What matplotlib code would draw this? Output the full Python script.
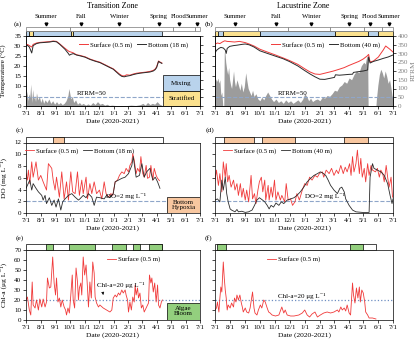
import matplotlib
matplotlib.use("Agg")
import matplotlib.pyplot as plt
import numpy as np
from matplotlib.patches import Rectangle

plt.rcParams['font.family'] = ['Liberation Serif', 'DejaVu Serif']
plt.rcParams['font.size'] = 5.2
plt.rcParams['axes.linewidth'] = 0.5
plt.rcParams['xtick.major.width'] = 0.5
plt.rcParams['ytick.major.width'] = 0.5
plt.rcParams['xtick.major.size'] = 2
plt.rcParams['ytick.major.size'] = 2
plt.rcParams['xtick.major.pad'] = 1.5
plt.rcParams['ytick.major.pad'] = 1.5

W, H = 417, 347

# x axis = days since 2020-07-01
month_days = [0, 31, 62, 92, 123, 153, 184, 215, 243, 274, 304, 335, 365]
month_labels = ['7/1', '8/1', '9/1', '10/1', '11/1', '12/1', '1/1', '2/1', '3/1', '4/1', '5/1', '6/1', '7/1']

seasons = ['Summer', 'Fall', 'Winter', 'Spring', 'Flood', 'Summer']
season_edges_tz = [0, 92, 152, 246, 309, 355, 365]
season_mark_tz = [41, 116, 195, 278, 321, 359]
season_edges_lz = [0, 89, 149, 236, 306, 342, 365]
season_mark_lz = [41, 126, 197, 275, 318, 356]

strat_tz = [(0, 7, 'M'), (7, 15, 'S'), (15, 94, 'M'), (94, 98, 'S'), (98, 285, 'M')]
strat_lz = [(0, 7, 'S'), (7, 17, 'M'), (17, 92, 'S'), (92, 246, 'M'), (246, 314, 'S'),
            (314, 335, 'M'), (335, 365, 'S')]
hyp_tz = [(57, 80)]
hyp_tz_end = 288
hyp_lz = [(19, 79), (96, 164), (265, 314)]
hyp_lz_end = 365
bloom_tz = [(41, 57), (90, 145), (181, 209), (225, 239), (257, 285)]
bloom_tz_end = 285
bloom_lz = [(5, 22), (277, 304)]
bloom_lz_end = 331

# temperature (day, degC)
temp_tz_surf = [(0, 30.5), (3, 30.8), (7, 30.2), (12, 29.5), (15, 30.8), (22, 31.5), (29, 31.8),
                (40, 32.0), (50, 32.2), (57, 32.5), (64, 32.3), (71, 31.0), (82, 28.8), (89, 27.5),
                (91, 27.2), (94, 27.0), (99, 26.6), (106, 25.6), (113, 25.3), (124, 24.6), (134, 23.5),
                (145, 22.6), (155, 21.9), (166, 20.6), (176, 19.4), (183, 18.6), (190, 17.2),
                (196, 16.0), (201, 15.2), (206, 15.0), (211, 15.6), (218, 15.4), (225, 16.0),
                (232, 16.4), (239, 16.6), (246, 16.8), (253, 17.0), (260, 17.3), (267, 17.8),
                (271, 18.5), (274, 19.6), (278, 22.5), (281, 22.0), (285, 21.5)]
temp_tz_bot = [(0, 30.0), (3, 30.3), (7, 29.5), (12, 26.5), (15, 30.2), (22, 31.2), (29, 31.6),
               (40, 31.8), (50, 32.0), (57, 32.3), (64, 32.1), (71, 30.8), (82, 28.3), (89, 26.2),
               (91, 25.4), (94, 25.8), (99, 26.2), (106, 25.5), (113, 25.1), (124, 24.4), (134, 23.3),
               (145, 22.4), (155, 21.7), (166, 20.4), (176, 19.2), (183, 18.4), (190, 16.9),
               (196, 15.6), (201, 14.8), (206, 14.6), (211, 14.9), (218, 15.2), (225, 15.7),
               (232, 16.1), (239, 16.4), (246, 16.6), (253, 16.8), (260, 17.0), (267, 17.5),
               (271, 18.2), (274, 19.2), (278, 22.3), (281, 21.8), (285, 21.3)]
temp_lz_surf = [(0, 30.9), (5, 31.5), (10, 31.2), (15, 32.0), (20, 32.6), (25, 32.3), (31, 32.2),
                (40, 32.0), (50, 32.3), (62, 31.7), (70, 31.0), (80, 30.0), (92, 28.4), (105, 27.2),
                (123, 25.6), (140, 24.0), (153, 22.7), (170, 20.8), (184, 18.6), (195, 17.0),
                (205, 16.0), (215, 15.8), (225, 16.4), (235, 17.0), (243, 17.5), (255, 18.4),
                (265, 19.2), (274, 20.2), (285, 21.3), (295, 22.3), (304, 23.5), (312, 25.0),
                (315, 25.8), (318, 22.0), (325, 22.5), (335, 24.5), (345, 28.0), (350, 30.0),
                (358, 28.5), (365, 27.0)]
temp_lz_bot = [(0, 26.5), (3, 27.8), (8, 28.8), (12, 29.3), (17, 29.0), (21, 28.0), (23, 26.3),
               (25, 28.8), (30, 29.8), (38, 30.2), (45, 30.4), (55, 30.8), (62, 31.0), (70, 30.6),
               (80, 29.5), (92, 27.6), (105, 26.5), (123, 25.0), (140, 23.6), (153, 22.2),
               (170, 20.0), (184, 17.7), (195, 16.0), (205, 14.6), (215, 13.4), (225, 13.3),
               (235, 13.8), (245, 14.3), (247, 15.6), (255, 15.4), (265, 15.6), (274, 15.8),
               (282, 15.9), (284, 16.8), (295, 17.2), (304, 17.5), (313, 18.0), (315, 24.5),
               (318, 21.5), (325, 22.3), (335, 23.0), (345, 23.8), (355, 24.5), (365, 25.5)]

# RTRM (day, value)
rtrm_tz = [(0, 40), (2, 85), (4, 30), (6, 70), (8, 50), (10, 125), (12, 20), (14, 95), (16, 40),
           (18, 60), (20, 25), (22, 75), (25, 35), (28, 55), (31, 20), (34, 45), (37, 15), (40, 35),
           (44, 20), (48, 40), (52, 15), (56, 30), (60, 10), (64, 25), (68, 10), (72, 20), (76, 8),
           (80, 15), (84, 30), (88, 60), (90, 100), (92, 70), (94, 40), (97, 55), (100, 20),
           (104, 35), (108, 10), (112, 20), (116, 8), (120, 15), (125, 5), (130, 12), (135, 5),
           (140, 20), (145, 8), (150, 25), (155, 10), (160, 15), (165, 5), (170, 10), (175, 3),
           (180, 5), (190, 2), (200, 3), (210, 2), (220, 5), (230, 3), (240, 8), (245, 15),
           (250, 5), (255, 20), (260, 8), (265, 15), (270, 10), (275, 25), (280, 10), (285, 5)]
rtrm_lz = [(0, 120), (2, 155), (4, 140), (6, 160), (8, 130), (10, 150), (12, 60), (14, 80),
           (16, 0), (18, 0), (19, 300), (20, 320), (22, 250), (24, 210), (26, 180), (28, 220),
           (30, 150), (32, 120), (34, 100), (36, 150), (38, 200), (40, 140), (42, 110), (45, 150),
           (48, 120), (51, 90), (54, 130), (57, 80), (60, 110), (63, 190), (65, 150), (68, 100),
           (71, 80), (74, 60), (77, 90), (80, 55), (84, 70), (88, 40), (92, 30), (96, 50),
           (100, 35), (104, 60), (108, 80), (112, 60), (116, 40), (120, 25), (125, 40), (130, 20),
           (135, 30), (140, 15), (145, 35), (150, 20), (155, 30), (160, 15), (165, 25), (170, 35),
           (175, 20), (180, 40), (184, 70), (188, 55), (192, 30), (196, 45), (200, 25), (205, 35),
           (210, 40), (215, 30), (220, 50), (225, 45), (230, 60), (235, 55), (240, 70), (245, 90),
           (250, 85), (255, 110), (260, 120), (265, 140), (270, 130), (275, 160), (280, 150),
           (285, 180), (290, 200), (295, 190), (300, 230), (305, 250), (308, 240), (311, 280),
           (313, 290), (314, 0), (330, 0), (331, 40), (334, 120), (337, 180), (340, 210),
           (343, 190), (346, 160), (349, 200), (352, 170), (355, 130), (358, 150), (361, 100),
           (363, 60), (365, 40)]

# dissolved oxygen (day, mg/L)
do_tz_surf = [(0, 6.7), (3, 5.6), (5, 7.3), (8, 5.0), (12, 8.7), (15, 6.1), (21, 8.7), (26, 5.6),
              (31, 6.4), (36, 5.3), (43, 3.9), (47, 8.4), (54, 7.6), (57, 5.6), (61, 3.9), (64, 6.1),
              (70, 2.7), (75, 7.0), (80, 2.4), (85, 5.3), (89, 2.2), (94, 7.0), (98, 3.6), (103, 3.3),
              (108, 7.0), (112, 3.0), (117, 5.6), (120, 3.3), (126, 6.1), (129, 2.4), (134, 5.0),
              (138, 3.3), (143, 5.3), (148, 3.3), (154, 3.9), (159, 2.4), (164, 5.3), (168, 3.3),
              (173, 2.7), (178, 3.3), (182, 3.0), (187, 5.3), (192, 5.6), (196, 6.4), (201, 7.0),
              (206, 6.7), (210, 7.6), (215, 7.0), (218, 8.1), (222, 8.7), (224, 10.1), (227, 9.0),
              (231, 6.7), (234, 7.6), (238, 7.0), (241, 9.6), (245, 6.7), (248, 6.1), (252, 8.1),
              (255, 5.9), (259, 6.1), (262, 8.1), (266, 5.6), (269, 7.6), (273, 6.4), (276, 5.9),
              (280, 5.5)]
do_tz_bot = [(0, 4.2), (8, 5.6), (12, 3.9), (15, 5.0), (21, 4.2), (26, 3.6), (33, 3.0), (36, 2.2),
             (40, 3.0), (43, 1.6), (49, 2.6), (54, 1.3), (59, 2.2), (63, 1.0), (68, 2.4), (73, 0.5),
             (77, 1.9), (82, 2.4), (89, 3.0), (96, 3.3), (103, 2.7), (110, 2.2), (113, 2.4),
             (120, 3.0), (126, 2.6), (131, 3.3), (138, 2.7), (143, 1.3), (148, 2.7), (155, 2.6),
             (164, 2.4), (169, 3.0), (176, 2.6), (183, 3.3), (187, 5.3), (194, 5.6), (201, 5.9),
             (208, 6.1), (215, 6.7), (222, 8.1), (225, 9.6), (231, 6.1), (238, 6.4), (243, 8.4),
             (248, 6.1), (253, 7.0), (260, 7.6), (266, 5.6), (271, 6.1), (276, 5.3), (281, 4.2)]
do_lz_surf = [(0, 5.6), (3, 7.3), (7, 4.7), (10, 6.7), (14, 3.6), (17, 8.7), (21, 6.1), (23, 8.4),
              (26, 5.3), (29, 6.4), (33, 4.4), (38, 5.6), (41, 3.9), (45, 5.0), (48, 3.0), (52, 5.0),
              (55, 2.7), (58, 4.2), (62, 2.2), (65, 3.9), (69, 1.9), (74, 6.4), (77, 2.4), (81, 3.3),
              (84, 1.6), (88, 3.9), (91, 5.3), (95, 6.1), (98, 3.6), (102, 5.6), (104, 2.2),
              (109, 4.7), (111, 2.2), (115, 4.4), (118, 2.7), (122, 5.6), (125, 2.2), (129, 3.6),
              (134, 2.2), (137, 3.0), (143, 1.9), (146, 5.0), (150, 2.2), (155, 2.4), (159, 1.3),
              (164, 1.9), (168, 3.3), (173, 2.2), (179, 3.9), (184, 5.0), (189, 4.7), (194, 6.1),
              (199, 5.6), (205, 6.4), (210, 6.1), (214, 6.7), (220, 7.0), (223, 6.1), (228, 7.3),
              (234, 6.7), (239, 7.6), (244, 6.4), (249, 7.3), (253, 6.7), (258, 8.1), (263, 6.7),
              (267, 7.8), (271, 7.0), (276, 8.4), (279, 6.4), (282, 9.6), (285, 7.0), (289, 8.4),
              (292, 10.7), (296, 6.7), (299, 9.3), (302, 6.1), (306, 7.6), (309, 5.3), (313, 8.4),
              (316, 6.4), (320, 8.1), (323, 7.3), (329, 7.0), (333, 7.6), (337, 6.1), (340, 7.3),
              (344, 6.7), (347, 5.3), (351, 8.1), (354, 6.1), (357, 4.4), (361, 6.1), (364, 2.7)]
do_lz_bot = [(0, 2.2), (5, 2.4), (10, 1.9), (14, 5.6), (17, 3.9), (21, 6.1), (24, 3.3), (27, 1.9),
             (31, 0.7), (34, 0.5), (41, 0.2), (45, 0.6), (48, 0.2), (55, 0.3), (62, 0.1), (69, 0.2),
             (76, 0.5), (81, 1.3), (86, 2.2), (91, 2.6), (96, 2.3), (102, 1.9), (107, 1.3),
             (111, 0.7), (115, 1.3), (120, 1.0), (125, 1.7), (131, 1.3), (136, 1.9), (141, 1.6),
             (148, 2.2), (155, 2.4), (162, 2.6), (168, 3.0), (175, 3.6), (182, 4.4), (189, 5.3),
             (196, 5.9), (203, 6.4), (210, 6.7), (216, 7.0), (221, 6.8), (227, 6.4), (232, 5.6),
             (237, 4.7), (244, 3.9), (251, 3.3), (256, 4.2), (260, 4.4), (265, 3.6), (268, 2.4),
             (275, 1.3), (282, 0.5), (289, 0.2), (302, 0.1), (316, 0.1), (318, 6.1), (323, 8.4),
             (326, 7.6), (333, 7.3), (340, 7.0), (347, 6.4), (354, 5.0), (359, 3.0), (363, 1.6),
             (365, 2.4)]

# chlorophyll-a (day, ug/L)
chl_tz = [(0, 20), (3, 23), (7, 10), (10, 5), (13, 38), (15, 15), (19, 12), (22, 20), (26, 10),
          (29, 21), (33, 13), (36, 21), (40, 13), (43, 18), (45, 42), (49, 32), (52, 33), (56, 63),
          (59, 37), (62, 25), (64, 42), (67, 18), (70, 22), (73, 13), (76, 20), (80, 13), (83, 10),
          (85, 5), (88, 12), (91, 7), (94, 25), (97, 45), (99, 20), (102, 12), (105, 52), (108, 38),
          (110, 20), (112, 32), (115, 37), (117, 25), (120, 63), (123, 45), (126, 55), (129, 32),
          (131, 13), (134, 38), (137, 22), (140, 58), (143, 47), (145, 23), (148, 17), (152, 13),
          (155, 15), (162, 12), (169, 10), (176, 8), (180, 10), (183, 22), (187, 25), (190, 23),
          (194, 27), (197, 25), (201, 30), (204, 27), (208, 30), (210, 25), (213, 20), (215, 8),
          (218, 18), (221, 10), (224, 23), (227, 18), (229, 35), (231, 25), (234, 32), (236, 22),
          (239, 27), (242, 12), (245, 15), (248, 8), (250, 10), (253, 13), (257, 17), (259, 45),
          (262, 37), (264, 42), (267, 28), (270, 37), (273, 18), (276, 35), (278, 15), (281, 12),
          (284, 18), (286, 20)]
chl_lz = [(0, 10), (3, 12), (5, 18), (8, 8), (10, 22), (12, 33), (14, 28), (17, 58), (19, 42),
          (21, 30), (23, 22), (25, 10), (27, 15), (31, 12), (34, 17), (38, 13), (40, 22), (43, 18),
          (45, 25), (48, 20), (51, 25), (54, 17), (56, 13), (58, 8), (62, 12), (65, 8), (69, 7),
          (72, 12), (77, 28), (80, 12), (82, 7), (86, 5), (89, 10), (93, 15), (96, 12), (100, 20),
          (103, 18), (107, 12), (110, 8), (113, 7), (117, 5), (124, 4), (131, 5), (137, 13),
          (141, 7), (144, 10), (148, 5), (155, 4), (162, 4), (172, 5), (179, 7), (184, 10),
          (189, 5), (194, 3), (199, 6), (205, 8), (210, 3), (216, 5), (223, 7), (230, 8), (237, 7),
          (244, 8), (251, 10), (254, 8), (258, 13), (261, 10), (265, 12), (268, 9), (271, 15),
          (275, 7), (278, 5), (282, 37), (284, 25), (287, 17), (290, 32), (293, 22), (296, 33),
          (298, 18), (301, 30), (304, 27), (307, 18), (309, 8), (313, 5), (316, 2), (323, 2),
          (330, 1)]

RED = '#f03a3a'
BLK = '#2b2b2b'
GREY = '#9c9c9c'
REF = '#8fa6c9'
MIX = '#b9d3ec'
STRAT = '#fbe18e'
HYP = '#f8c7a0'
BLOOM = '#93cf7e'

fig = plt.figure(figsize=(W / 100, H / 100), dpi=100)


def add_ax(x0, y0, x1, y1):
    return fig.add_axes([x0 / W, 1 - y1 / H, (x1 - x0) / W, (y1 - y0) / H])


def xy(pairs):
    a = np.array(pairs, dtype=float)
    return a[:, 0], a[:, 1]


def style_main(ax, left_labels):
    ax.set_xlim(0, 365)
    ax.set_xticks(month_days)
    ax.set_xticklabels(month_labels)
    ax.tick_params(labelsize=5.0)
    if not left_labels:
        ax.tick_params(labelleft=False)
    ax.set_xlabel('Date (2020-2021)', labelpad=2, fontsize=5.4)


def bar_setup(ax):
    ax.set_xlim(0, 365)
    ax.set_ylim(0, 1)
    ax.axis('off')


def event_bar(ax, segs, end, color):
    bar_setup(ax)
    ax.add_patch(Rectangle((0, 0), end, 1, fc='white', ec='black', lw=0.5, clip_on=False))
    for s, e in segs:
        ax.add_patch(Rectangle((s, 0), e - s, 1, fc=color, ec='black', lw=0.5, clip_on=False))


def strat_bar(ax, segs):
    bar_setup(ax)
    for s, e, k in segs:
        ax.add_patch(Rectangle((s, 0), e - s, 1, fc=MIX if k == 'M' else STRAT,
                               ec='black', lw=0.5, clip_on=False))


def season_bar(ax, edges, marks):
    bar_setup(ax)
    for s, e in zip(edges[:-1], edges[1:]):
        ax.add_patch(Rectangle((s, 0), e - s, 1, fc='white', ec='#777777', lw=0.5, clip_on=False))
    for m, name in zip(marks, seasons):
        ax.plot(m, 1.8, marker='v', ms=2.0, color='black', clip_on=False)
        ax.text(m, 3.9, name, ha='center', va='center', fontsize=4.9)


def legend(ax, x, y, ncol=2):
    ax.legend(loc='upper center', bbox_to_anchor=(x, y), ncol=ncol, frameon=False, fontsize=4.9,
              handlelength=1.3, handletextpad=0.3, columnspacing=0.7, borderpad=0.1)


def box(ax, x0, y0, w, h, color, text):
    ax.add_patch(Rectangle((x0, y0), w, h, transform=ax.transAxes, fc=color, ec='black',
                           lw=0.5, zorder=5))
    ax.text(x0 + w / 2, y0 + h / 2, text, transform=ax.transAxes, ha='center', va='center',
            fontsize=5.0, zorder=6, linespacing=1.0)


# ---- temperature panels ----
temp_panels = [
    ((26, 200), temp_tz_surf, temp_tz_bot, rtrm_tz, 'Bottom (18 m)', True, 138,
     season_edges_tz, season_mark_tz, strat_tz),
    ((215, 393), temp_lz_surf, temp_lz_bot, rtrm_lz, 'Bottom (40 m)', False, 160,
     season_edges_lz, season_mark_lz, strat_lz),
]
for (x0, x1), ts, tb, rt, blab, left, rtx, sedge, smark, strat in temp_panels:
    ax = add_ax(x0, 36, x1, 106)
    ax2 = ax.twinx()
    d, v = xy(rt)
    ax2.fill_between(d, v, color=GREY, lw=0)
    ax2.axhline(50, color=REF, ls='--', lw=0.8)
    ax2.text(rtx, 58, 'RTRM=50', ha='center', va='bottom', fontsize=5.0)
    ax2.set_ylim(0, 400)
    ax2.set_yticks(range(0, 401, 50))
    ax2.tick_params(labelsize=5.0, labelcolor='#808080')
    if left:
        ax2.tick_params(labelright=False)
    else:
        ax2.set_ylabel('RTRM', color='#808080', fontsize=5.4)
        ax2.yaxis.set_label_coords(1.1, 0.5)
    d, v = xy(ts)
    ax.plot(d, v, color=RED, lw=0.7, label='Surface (0.5 m)')
    d, v = xy(tb)
    ax.plot(d, v, color=BLK, lw=0.7, label=blab)
    ax.set_ylim(0, 35)
    ax.set_yticks(range(0, 36, 5))
    ax.set_zorder(ax2.get_zorder() + 1)
    ax.patch.set_visible(False)
    style_main(ax, left)
    legend(ax, 0.62, 0.98)
    if left:
        ax.set_ylabel('Temperature (°C)', fontsize=5.4)
        ax.yaxis.set_label_coords(-0.11, 0.5)
        box(ax, 0.787, 0.214, 0.213, 0.229, MIX, 'Mixing')
        box(ax, 0.787, 0.0, 0.213, 0.214, STRAT, 'Stratified')
    strat_bar(add_ax(x0, 30.5, x1, 36), strat)
    season_bar(add_ax(x0, 27, x1, 30.5), sedge, smark)

# ---- DO panels ----
do_panels = [
    ((26, 200), do_tz_surf, do_tz_bot, 'Bottom (18 m)', True, 210, 0.31, hyp_tz, hyp_tz_end),
    ((215, 393), do_lz_surf, do_lz_bot, 'Bottom (40 m)', False, 225, 0.35, hyp_lz, hyp_lz_end),
]
for (x0, x1), ds, db, blab, left, tx, lx, hyp, hend in do_panels:
    ax = add_ax(x0, 142.5, x1, 213)
    ax.axhline(2, color=REF, ls='--', lw=0.8)
    d, v = xy(ds)
    ax.plot(d, v, color=RED, lw=0.6, label='Surface (0.5 m)')
    d, v = xy(db)
    ax.plot(d, v, color=BLK, lw=0.6, label=blab)
    ax.text(tx, 2.4, 'DO=2 mg L\u207b\u00b9', ha='center', va='bottom', fontsize=5.0)
    ax.set_ylim(0, 12)
    ax.set_yticks(range(0, 13, 2))
    style_main(ax, left)
    legend(ax, lx, 0.98)
    if left:
        ax.set_ylabel('DO (mg L\u207b\u00b9)', fontsize=5.4)
        ax.yaxis.set_label_coords(-0.11, 0.5)
        box(ax, 0.81, 0.0, 0.19, 0.227, HYP, 'Bottom\nHypoxia')
    event_bar(add_ax(x0, 136.5, x1, 142.5), hyp, hend, HYP)

# ---- Chl-a panels ----
chl_panels = [
    ((26, 200), chl_tz, True, 199, 35, 0.62, bloom_tz, bloom_tz_end),
    ((215, 393), chl_lz, False, 178, 24, 0.44, bloom_lz, bloom_lz_end),
]
for (x0, x1), cs, left, tx, ty, lx, bloom, bend in chl_panels:
    ax = add_ax(x0, 250, x1, 320)
    ax.axhline(20, color='#6f8fc2', ls=':', lw=0.9)
    d, v = xy(cs)
    ax.plot(d, v, color=RED, lw=0.6, label='Surface (0.5 m)')
    lab = 'Chl-a=20 \u03bcg L\u207b\u00b9'
    if left:
        ax.annotate(lab, xy=(162, 25), xytext=(tx, ty), ha='center', va='center', fontsize=5.0,
                    arrowprops=dict(arrowstyle='-|>', lw=0.4, color='black', mutation_scale=4,
                                    relpos=(0.1, 0.2)))
    else:
        ax.text(tx, ty, lab, ha='center', va='center', fontsize=5.0)
    ax.set_ylim(0, 70)
    ax.set_yticks(range(0, 71, 10))
    style_main(ax, left)
    legend(ax, lx, 0.97, ncol=1)
    if left:
        ax.set_ylabel('Chl-a (\u03bcg L\u207b\u00b9)', fontsize=5.4)
        ax.yaxis.set_label_coords(-0.11, 0.5)
        box(ax, 0.81, 0.0, 0.19, 0.243, BLOOM, 'Algae\nBloom')
    event_bar(add_ax(x0, 244, x1, 250), bloom, bend, BLOOM)

# titles and panel letters
fig.text(113 / W, 1 - 6 / H, 'Transition Zone', ha='center', va='center', fontsize=5.8)
fig.text(303 / W, 1 - 6 / H, 'Lacustrine Zone', ha='center', va='center', fontsize=5.8)
for lab, px, py in [('(a)', 18, 24), ('(b)', 209, 24), ('(c)', 20, 130), ('(d)', 210, 130),
                    ('(e)', 20, 238), ('(f)', 208, 238)]:
    fig.text(px / W, 1 - py / H, lab, ha='center', va='center', fontsize=5.4)

fig.savefig('out.png', dpi=100)
